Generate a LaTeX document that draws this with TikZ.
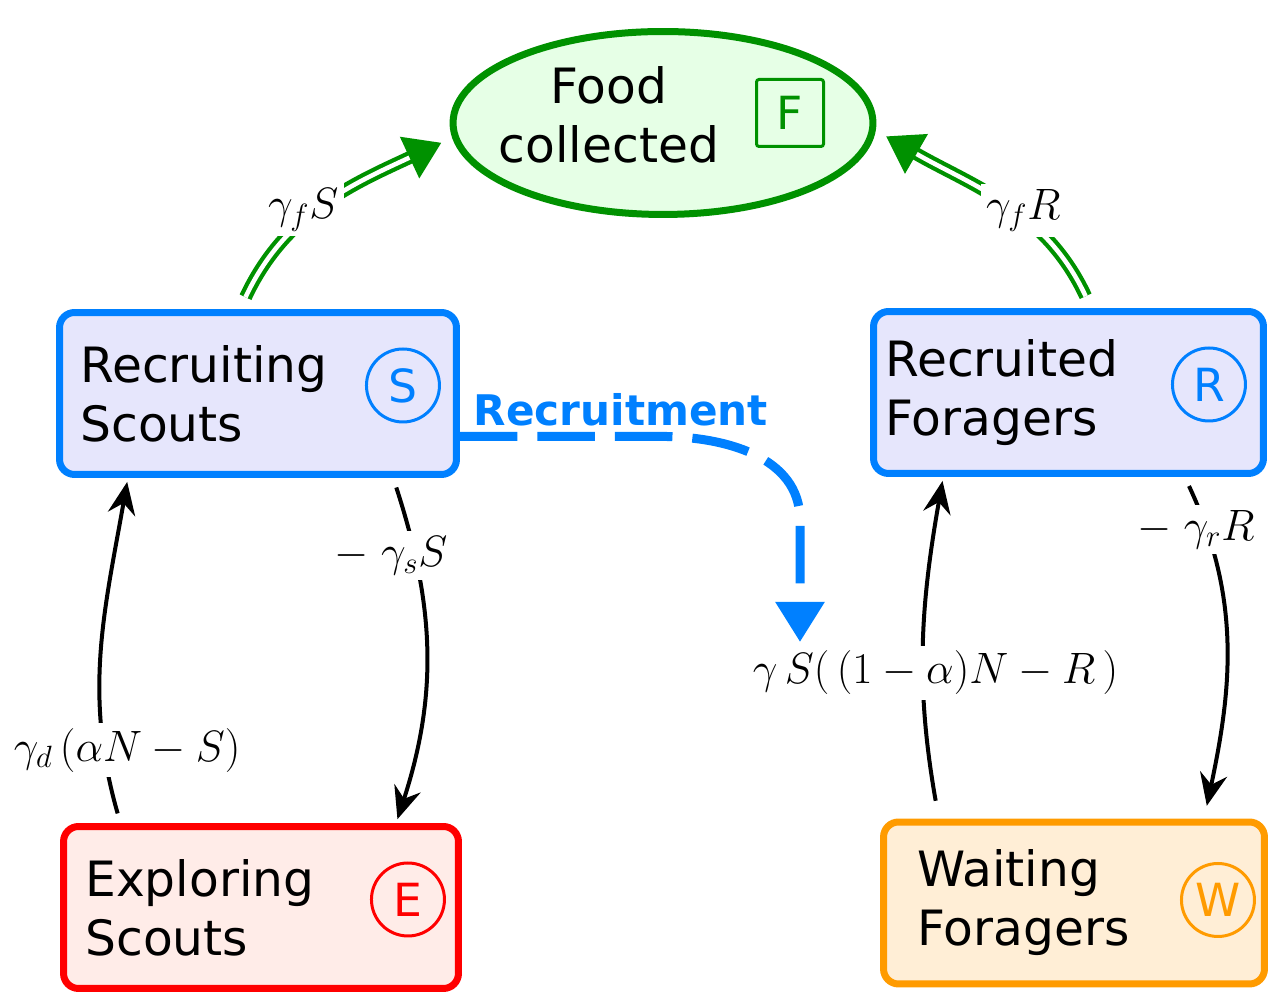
\RequirePackage{fix-cm}
\documentclass[tikz,border=0pt]{standalone}
\usepackage[no-math]{fontspec}
\setmainfont{DejaVu Sans}
\usetikzlibrary{calc,shapes.geometric,arrows.meta}

\definecolor{scoutblue}{RGB}{0,128,255}
\definecolor{boxblue}{RGB}{230,230,252}
\definecolor{explred}{RGB}{255,0,0}
\definecolor{boxred}{RGB}{255,236,232}
\definecolor{waitorange}{RGB}{255,155,0}
\definecolor{boxorange}{RGB}{255,238,214}
\definecolor{foodgreen}{RGB}{0,145,0}
\definecolor{foodfill}{RGB}{230,255,230}

\newcommand\boxfont{\fontsize{27.7}{33.6}\selectfont}
\newcommand\tagfont{\fontsize{26}{30}\selectfont}

\tikzset{
  statebox/.style={draw,rounded corners=0.3cm,line width=0.14cm,inner sep=0pt,
    minimum height=3.24cm},
  boxtext/.style={align=left,inner sep=0pt,font=\boxfont,anchor=west},
  tagcircle/.style={circle,draw,line width=0.06cm,inner sep=0pt,minimum size=1.46cm,font=\tagfont},
  ratelabel/.style={fill=white,inner sep=3pt,font=\fontsize{25}{29}\selectfont},
  recruit/.style={draw=scoutblue,line width=0.18cm,dash pattern=on 1.15cm off 0.4cm,
    -{Triangle[length=0.8cm,width=0.94cm]}}
}
\def\drawrate{\draw[line width=0.08cm,shorten <=0.2cm,shorten >=0.08cm,
  -{Stealth[length=0.65cm,width=0.55cm,inset=0.22cm]}]}
\def\drawfood{\draw[draw=foodgreen,line width=0.085cm,double=white,double distance=0.09cm,
  shorten <=0.26cm,shorten >=0.24cm,-{Triangle[length=0.7cm,width=0.9cm]}]}

\begin{document}
\begin{tikzpicture}[x=0.02cm,y=0.02cm]
\useasboundingbox (0,0) rectangle (1275,1000);

% ---------- food collected on top
\node[ellipse,draw=foodgreen,fill=foodfill,line width=0.14cm,minimum width=8.4cm,minimum height=3.66cm] (food) at (663,877) {};
\node[align=center,inner sep=0pt,font=\boxfont] (foodtxt) at ($ (food.center) + (-54,8) $) {Food\\collected};
\node[draw=foodgreen,line width=0.06cm,rounded corners=0.05cm,minimum size=1.34cm,inner sep=0pt,text=foodgreen,font=\tagfont] (ftag) at ($ (food.center) + (127,10) $) {F};

% ---------- the four states
\node[statebox,draw=scoutblue,fill=boxblue,minimum width=7.94cm] (sbox) at (258,606.5) {};
\node[boxtext] (stext) at ($ (sbox.west) + (24,0) $) {Recruiting\\Scouts};
\node[tagcircle,draw=scoutblue,text=scoutblue] (stag) at ($ (sbox.east) + (-57,8) $) {S};

\node[statebox,draw=scoutblue,fill=boxblue,minimum width=7.8cm] (rbox) at (1068.5,607.5) {};
\node[boxtext] (rtext) at ($ (rbox.west) + (15,0) $) {Recruited\\Foragers};
\node[tagcircle,draw=scoutblue,text=scoutblue] (rtag) at ($ (rbox.east) + (-58,8) $) {R};

\node[statebox,draw=explred,fill=boxred,minimum width=7.9cm] (ebox) at (261,92.5) {};
\node[boxtext] (etext) at ($ (ebox.west) + (25,0) $) {Exploring\\Scouts};
\node[tagcircle,draw=explred,text=explred] (etag) at ($ (ebox.east) + (-54,8) $) {E};

\node[statebox,draw=waitorange,fill=boxorange,minimum width=7.62cm] (wbox) at (1074,97) {};
\node[boxtext] (wtext) at ($ (wbox.west) + (37,0) $) {Waiting\\Foragers};
\node[tagcircle,draw=waitorange,text=waitorange] (wtag) at ($ (wbox.east) + (-50,3) $) {W};

% ---------- flows into the food
\drawfood[out=65,in=205] (sbox.102) to node[pos=0.4,ratelabel,xshift=-0.06cm,yshift=0.2cm] (fs) {$\gamma_f S$} (food.184);
\drawfood[out=115,in=-30] (rbox.75) to node[pos=0.45,ratelabel,xshift=0.22cm] (fr) {$\gamma_f R$} (food.358);

% ---------- scouts loop
\drawrate[out=-72,in=72] (sbox.-32) to node[pos=0.2,ratelabel,xshift=-0.45cm,yshift=-0.1cm] (ls) {$-\;\gamma_s S$} (ebox.32.8);
\drawrate[out=106,in=-100] (ebox.149) to node[pos=0.2,ratelabel,xshift=0.45cm] (ld) {$\gamma_d\,(\alpha N-S)$} (sbox.213.5);

% ---------- foragers loop
\drawrate[out=-65,in=78,shorten >=0.26cm] (rbox.-36.3) to node[pos=0.15,ratelabel,xshift=-0.2cm] (lr) {$-\;\gamma_r R$} (wbox.33);
\drawrate[out=100,in=-100,shorten <=0.36cm] (wbox.148.2) to node[pos=0.42,ratelabel,xshift=0.24cm] (gain) {$\gamma\,S(\,(1-\alpha)N-R\,)$} (rbox.214);

% ---------- recruitment, from the scouts down to the gain term
\coordinate (drop) at (800,358); % tip of the dashed arrow
\draw[recruit] (sbox.-12) -- ++(200,0) to[out=0,in=90] ($ (drop) + (0,122) $) -- (drop);
\node[text=scoutblue,font=\bfseries\fontsize{24}{28}\selectfont] (recruitlbl) at (621,590) {Recruitment};
\end{tikzpicture}
\end{document}
